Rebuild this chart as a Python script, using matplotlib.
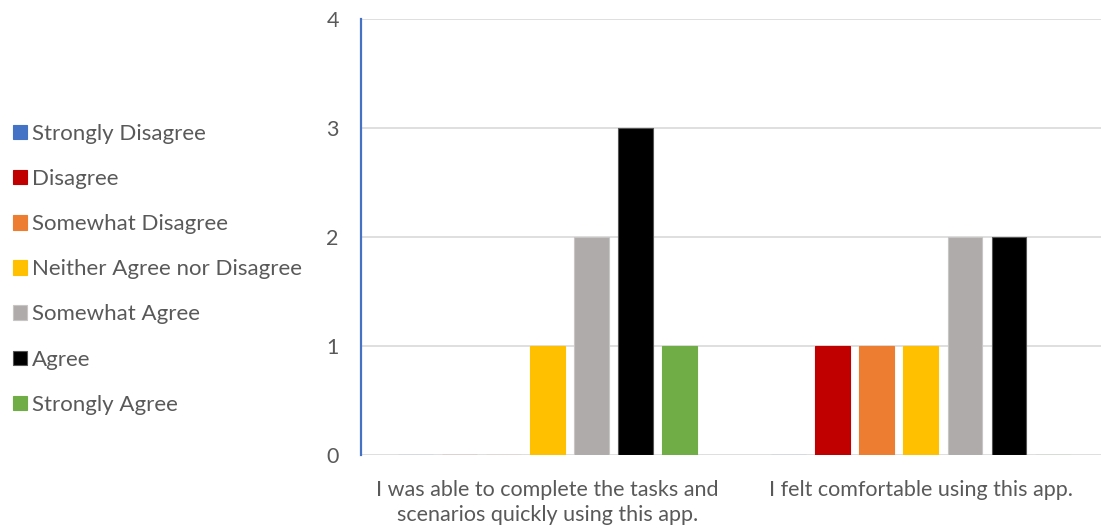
import matplotlib.pyplot as plt
import numpy as np

categories = ['I was able to complete the tasks and\nscenarios quickly using this app.',
              'I felt comfortable using this app.']
series = ['Strongly Disagree', 'Disagree', 'Somewhat Disagree',
          'Neither Agree nor Disagree', 'Somewhat Agree', 'Agree', 'Strongly Agree']
values = [
    [0, 0],  # Strongly Disagree
    [0, 1],  # Disagree
    [0, 1],  # Somewhat Disagree
    [1, 1],  # Neither Agree nor Disagree
    [2, 2],  # Somewhat Agree
    [3, 2],  # Agree
    [1, 0],  # Strongly Agree
]
colors = ['#4472C4', '#C00000', '#ED7D31', '#FFC000', '#AFABAB', '#000000', '#70AD47']
edges = ['#4472C4', '#C00000', '#ED7D31', '#FFC000', '#C8C5C5', '#555555', '#70AD47']

plt.rcParams['font.family'] = ['Lato', 'DejaVu Sans']
txt = '#595959'
fs = 15.5

fig = plt.figure(figsize=(11.01, 5.32), dpi=100)
ax = fig.add_axes([361 / 1101, 77 / 532, 740 / 1101, 436 / 532])

x = np.arange(len(categories))
pitch = 0.118
width = 0.0925
handles = []
for i, (name, vals) in enumerate(zip(series, values)):
    b = ax.bar(x + (i - 3) * pitch, vals, width, color=colors[i],
               edgecolor=edges[i], linewidth=0.8, label=name, zorder=3)
    handles.append(b)

ax.set_xlim(-0.5, 1.483)
ax.set_ylim(0, 4)
ax.set_yticks([0, 1, 2, 3, 4])
ax.yaxis.grid(True, color='#D9D9D9', linewidth=1.2, zorder=0)
ax.set_xticks(x)
ax.set_xticklabels(categories, fontsize=fs, color=txt, linespacing=1.3)
ax.tick_params(axis='y', length=0, pad=16, labelsize=fs, labelcolor=txt)
ax.tick_params(axis='x', length=0, pad=18)
for s in ['top', 'right', 'bottom']:
    ax.spines[s].set_visible(False)
ax.spines['left'].set_color('#4472C4')
ax.spines['left'].set_linewidth(1.6)
ax.spines['left'].set_zorder(4)

fig.legend(handles=handles, labels=series, loc='upper left',
           bbox_to_anchor=(0.003, 1 - 114 / 532), frameon=False,
           fontsize=16, labelcolor=txt, handlelength=0.62, handleheight=0.62,
           handletextpad=0.22, labelspacing=1.13, borderaxespad=0, borderpad=0.45)

fig.savefig('out.png', dpi=100)
